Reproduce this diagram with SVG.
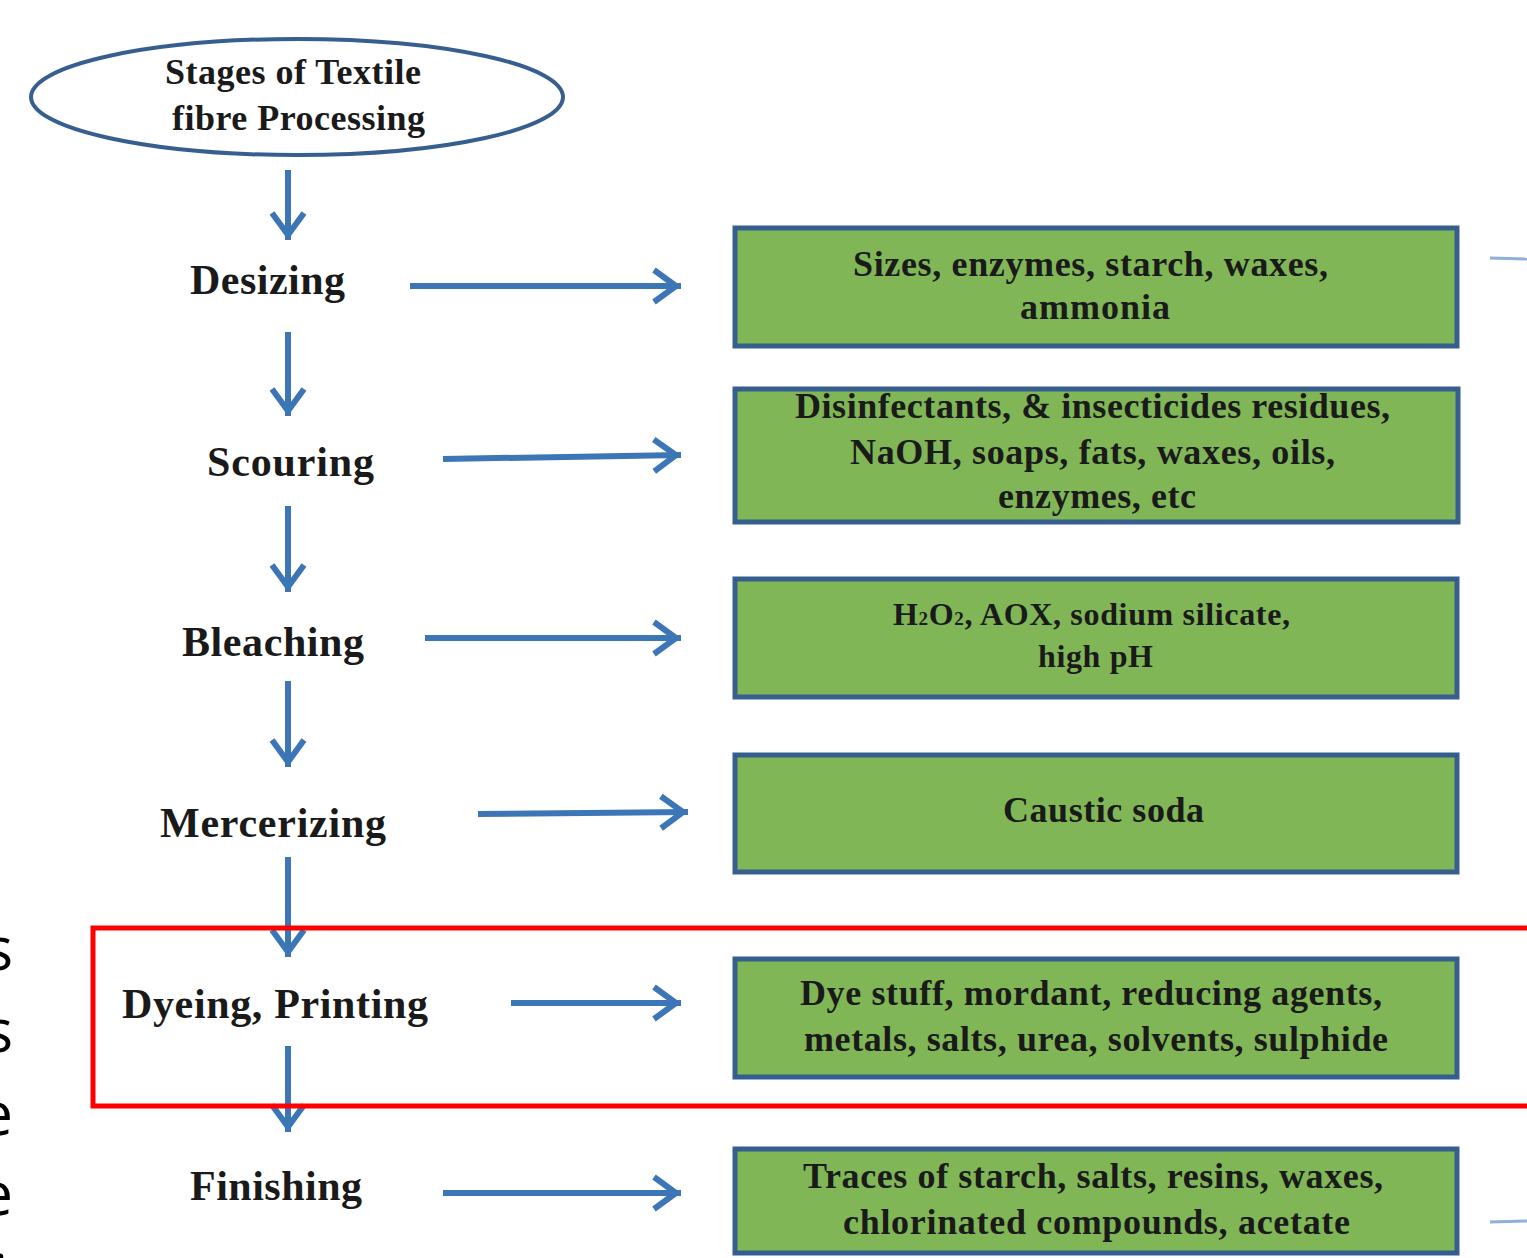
<svg xmlns="http://www.w3.org/2000/svg" width="1527" height="1258" viewBox="0 0 1527 1258">
<style>
.lbl{font-family:"Liberation Serif","Times New Roman",serif;font-weight:bold;fill:#1a1a1a}
.stage{font-size:42px}
.box{fill:#80b656;stroke:#365f8f;stroke-width:5}
.bt{font-size:36px}
.con{stroke:#3d76b6;stroke-width:6;fill:none}
.side{font-family:"Open Sans","Liberation Sans",sans-serif;font-size:60px;fill:#000;text-anchor:end}
</style>
<defs>
<marker id="ah" markerUnits="userSpaceOnUse" viewBox="-36 -22 40 44" markerWidth="40" markerHeight="44" refX="0" refY="0" orient="auto">
<path d="M-27,-16 L-5,0 L-27,16" fill="none" stroke="#3d76b6" stroke-width="6" stroke-linejoin="miter"/>
</marker>
</defs>
<rect width="1527" height="1258" fill="#fff"/>

<g id="side-text">
<text class="side" x="13" y="970">s</text>
<text class="side" x="13" y="1052">s</text>
<text class="side" x="13" y="1135">e</text>
<text class="side" x="13" y="1215">e</text>
<text class="side" x="8" y="1298">i</text>
</g>

<g id="start">
<ellipse cx="297" cy="97" rx="266" ry="58" fill="#fff" stroke="#365f8f" stroke-width="4"/>
<text class="lbl" x="165" y="84" font-size="36" textLength="256" lengthAdjust="spacing">Stages of Textile</text>
<text class="lbl" x="172" y="130" font-size="36" textLength="253" lengthAdjust="spacing">fibre Processing</text>
</g>

<g id="stages">
<g id="desizing"><text class="lbl stage" x="190" y="294" textLength="155" lengthAdjust="spacing">Desizing</text></g>
<g id="scouring"><text class="lbl stage" x="207" y="476" textLength="167" lengthAdjust="spacing">Scouring</text></g>
<g id="bleaching"><text class="lbl stage" x="182" y="656" textLength="182" lengthAdjust="spacing">Bleaching</text></g>
<g id="mercerizing"><text class="lbl stage" x="160" y="837" textLength="226" lengthAdjust="spacing">Mercerizing</text></g>
<g id="dyeing"><text class="lbl stage" x="122" y="1018" textLength="306" lengthAdjust="spacing">Dyeing, Printing</text></g>
<g id="finishing"><text class="lbl stage" x="190" y="1200" textLength="172" lengthAdjust="spacing">Finishing</text></g>
</g>

<g id="outputs">
<g id="out-desizing">
<rect class="box" x="735" y="228" width="722" height="118"/>
<text class="lbl bt" x="853" y="276" textLength="475" lengthAdjust="spacing">Sizes, enzymes, starch, waxes,</text>
<text class="lbl bt" x="1020" y="319" textLength="150" lengthAdjust="spacing">ammonia</text>
</g>
<g id="out-scouring">
<rect class="box" x="735" y="389" width="723" height="133"/>
<text class="lbl bt" x="795" y="418" textLength="595" lengthAdjust="spacing">Disinfectants, &amp; insecticides residues,</text>
<text class="lbl bt" x="850" y="464" textLength="485" lengthAdjust="spacing">NaOH, soaps, fats, waxes, oils,</text>
<text class="lbl bt" x="998" y="508" textLength="198" lengthAdjust="spacing">enzymes, etc</text>
</g>
<g id="out-bleaching">
<rect class="box" x="735" y="579" width="722" height="118"/>
<text class="lbl" x="893" y="625" font-size="32" textLength="397" lengthAdjust="spacing">H<tspan font-size="19">2</tspan>O<tspan font-size="19">2</tspan>, AOX, sodium silicate,</text>
<text class="lbl" x="1038" y="667" font-size="32" textLength="115" lengthAdjust="spacing">high pH</text>
</g>
<g id="out-mercerizing">
<rect class="box" x="735" y="755" width="722" height="117"/>
<text class="lbl bt" x="1003" y="822" textLength="201" lengthAdjust="spacing">Caustic soda</text>
</g>
<g id="out-dyeing">
<rect class="box" x="735" y="959" width="722" height="118"/>
<text class="lbl bt" x="800" y="1005" textLength="582" lengthAdjust="spacing">Dye stuff, mordant, reducing agents,</text>
<text class="lbl bt" x="804" y="1051" textLength="584" lengthAdjust="spacing">metals, salts, urea, solvents, sulphide</text>
</g>
<g id="out-finishing">
<rect class="box" x="735" y="1149" width="722" height="104"/>
<text class="lbl bt" x="803" y="1188" textLength="580" lengthAdjust="spacing">Traces of starch, salts, resins, waxes,</text>
<text class="lbl bt" x="843" y="1234" textLength="507" lengthAdjust="spacing">chlorinated compounds, acetate</text>
</g>
</g>

<g id="connectors">
<line class="con" x1="288" y1="170" x2="288" y2="240" marker-end="url(#ah)"/>
<line class="con" x1="288" y1="332" x2="288" y2="416" marker-end="url(#ah)"/>
<line class="con" x1="288" y1="506" x2="288" y2="592" marker-end="url(#ah)"/>
<line class="con" x1="288" y1="681" x2="288" y2="767" marker-end="url(#ah)"/>
<line class="con" x1="288" y1="857" x2="288" y2="957" marker-end="url(#ah)"/>
<line class="con" x1="288" y1="1046" x2="288" y2="1132" marker-end="url(#ah)"/>
<line class="con" x1="410" y1="286" x2="681" y2="286" marker-end="url(#ah)"/>
<line class="con" x1="443" y1="459" x2="681" y2="455" marker-end="url(#ah)"/>
<line class="con" x1="425" y1="638" x2="681" y2="638" marker-end="url(#ah)"/>
<line class="con" x1="478" y1="814" x2="688" y2="812" marker-end="url(#ah)"/>
<line class="con" x1="511" y1="1003" x2="681" y2="1003" marker-end="url(#ah)"/>
<line class="con" x1="443" y1="1193" x2="681" y2="1193" marker-end="url(#ah)"/>
<line x1="1490" y1="258" x2="1527" y2="259" stroke="#8fb1d9" stroke-width="3"/>
<line x1="1490" y1="1222" x2="1527" y2="1221" stroke="#8fb1d9" stroke-width="3"/>
</g>

<g id="highlight">
<rect x="93" y="928" width="1440" height="178" fill="none" stroke="#ff0000" stroke-width="5"/>
</g>
</svg>
